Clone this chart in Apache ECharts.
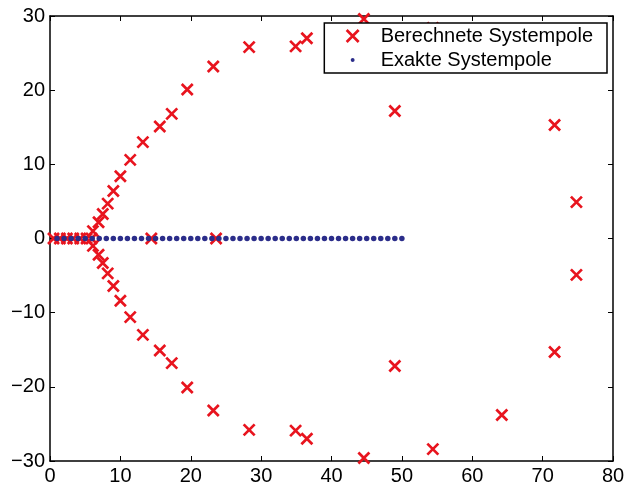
<!DOCTYPE html>
<html>
<head>
<meta charset="utf-8">
<script src="https://cdn.jsdelivr.net/npm/echarts@6/dist/echarts.min.js"></script>
<style>
  html, body { margin: 0; background: #fff; }
  #chart { width: 633px; height: 483px; }
</style>
</head>
<body>
<div id="chart"></div>
<script>
// berechnete Systempole (Realteil, Imaginärteil)
const berX = [0.5, 1.4, 2.4, 3.3, 4.3, 5.2, 5.9, 14.4, 23.6,
  6.1, 6.1, 6.9, 6.9, 7.5, 7.5, 8.2, 8.2, 9.0, 9.0, 10.0, 10.0,
  11.4, 11.4, 13.2, 13.2, 15.6, 15.6, 17.3, 17.3, 19.5, 19.5,
  23.2, 23.2, 28.3, 28.3, 34.9, 34.9, 36.5, 36.5, 44.6, 44.6,
  49.0, 49.0, 54.4, 54.4, 64.2, 64.2, 71.7, 71.7, 74.8, 74.8];
const berY = [0, 0, 0, 0, 0, 0, 0, 0, 0,
  1.0, -1.0, 2.2, -2.2, 3.3, -3.3, 4.7, -4.7, 6.4, -6.4, 8.4, -8.4,
  10.6, -10.6, 13.0, -13.0, 15.1, -15.1, 16.8, -16.8, 20.1, -20.1,
  23.2, -23.2, 25.8, -25.8, 25.9, -25.9, 27.0, -27.0, 29.6, -29.6,
  17.2, -17.2, 28.4, -28.4, 23.8, -23.8, 15.3, -15.3, 4.9, -4.9];

// exakte Systempole
const exX = [1, 2, 3, 4, 5, 6, 7, 8, 9, 10, 11, 12, 13, 14, 15, 16, 17, 18, 19, 20,
  21, 22, 23, 24, 25, 26, 27, 28, 29, 30, 31, 32, 33, 34, 35, 36, 37, 38, 39, 40,
  41, 42, 43, 44, 45, 46, 47, 48, 49, 50];
const exY = [0, 0, 0, 0, 0, 0, 0, 0, 0, 0, 0, 0, 0, 0, 0, 0, 0, 0, 0, 0,
  0, 0, 0, 0, 0, 0, 0, 0, 0, 0, 0, 0, 0, 0, 0, 0, 0, 0, 0, 0,
  0, 0, 0, 0, 0, 0, 0, 0, 0, 0];

const xTicks = { min: 0, max: 80, interval: 10 };
const yTicks = { min: -30, max: 30, interval: 10 };

const RED = "#e8141e";
const BLUE = "#2b2d8a";
const FONT = "Liberation Sans";
const CROSS = "path://M0,0L10,10M10,0L0,10";
const DOT = "path://M0,0M12,12M6,4L7.4,4.6L8,6L7.4,7.4L6,8L4.6,7.4L4,6L4.6,4.6Z";

const fmt = (v) => (v < 0 ? "\u2212" + (-v) : String(v));

function axis(range, position, showLabel) {
  return {
    type: "value",
    position: position,
    min: range.min,
    max: range.max,
    interval: range.interval,
    axisLine: { show: true, onZero: false, lineStyle: { color: "#000", width: 1.5 } },
    axisTick: { show: true, inside: true, length: 5, lineStyle: { color: "#000", width: 1 } },
    axisLabel: {
      show: showLabel,
      color: "#000",
      fontSize: 20,
      fontFamily: FONT,
      margin: 5,
      formatter: fmt,
    },
    splitLine: { show: false },
  };
}

const chart = echarts.init(document.getElementById("chart"));
chart.setOption({
  animation: false,
  backgroundColor: "#fff",
  grid: { left: 50, right: 20, top: 16, bottom: 22, outerBoundsMode: "none", containLabel: false },
  xAxis: [axis(xTicks, "bottom", true), axis(xTicks, "top", false)],
  yAxis: [axis(yTicks, "left", true), axis(yTicks, "right", false)],
  legend: {
    orient: "vertical",
    right: 26,
    top: 23,
    backgroundColor: "#fff",
    borderColor: "#000",
    borderWidth: 1.5,
    borderRadius: 0,
    padding: [3, 14, 3, 21],
    itemGap: 4,
    itemWidth: 46,
    itemHeight: 12,
    textStyle: { color: "#000", fontSize: 20, fontFamily: FONT },
    data: [
      { name: "Berechnete Systempole", icon: CROSS,
        itemStyle: { color: "transparent", borderColor: RED, borderWidth: 2.7 } },
      { name: "Exakte Systempole", icon: DOT,
        itemStyle: { color: BLUE, borderWidth: 0 } },
    ],
  },
  series: [
    {
      name: "Berechnete Systempole",
      type: "scatter",
      symbol: CROSS,
      symbolSize: 11,
      itemStyle: { color: "transparent", borderColor: RED, borderWidth: 2.7, opacity: 1 },
      data: berX.map((x, i) => [x, berY[i]]),
      z: 2,
    },
    {
      name: "Exakte Systempole",
      type: "scatter",
      symbol: "circle",
      symbolSize: 5.5,
      itemStyle: { color: BLUE, opacity: 1 },
      data: exX.map((x, i) => [x, exY[i]]),
      z: 3,
    },
  ],
});
</script>
</body>
</html>
